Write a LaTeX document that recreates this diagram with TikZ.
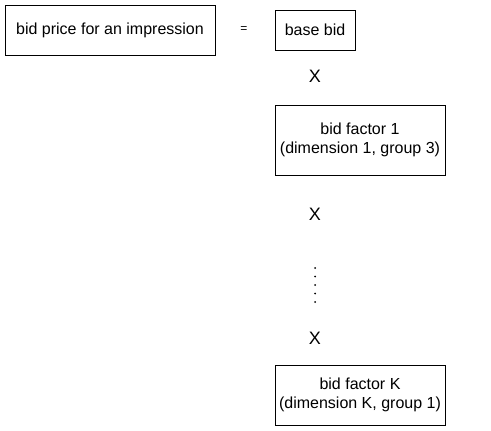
\documentclass[tikz,border=0pt]{standalone}
\usepackage{fontspec}
\setmainfont{Liberation Sans}
\begin{document}
\begin{tikzpicture}[x=1pt,y=-1pt,
  box/.style={draw=black, line width=0.9pt, inner sep=0pt, align=center,
    font=\fontsize{16}{19.5}\selectfont},
  times/.style={inner sep=0pt, font=\fontsize{18}{20}\selectfont},
  eqsign/.style={inner sep=0pt, font=\fontsize{12}{14}\selectfont}]
\useasboundingbox (0,0) rectangle (491,431);
\node[box, minimum width=210pt, minimum height=50pt] (price) at (110,30) {bid price for an impression};
\node[eqsign] (eq) at (244,30) {=};
\node[box, minimum width=80pt, minimum height=40pt] (base) at (315,30) {base bid};
\node[times] (x1) at (315,76) {X};
\node[box, minimum width=170pt, minimum height=70pt] (f1) at (360,140) {bid factor 1\\(dimension 1, group 3)};
\node[times] (x2) at (315,214) {X};
\foreach \y in {268,276.5,285,293.5,302} \fill (315,\y) circle (1pt);
\node[times] (x3) at (315,338) {X};
\node[box, minimum width=170pt, minimum height=60pt] (fk) at (360,395) {bid factor K\\(dimension K, group 1)};
\end{tikzpicture}
\end{document}
